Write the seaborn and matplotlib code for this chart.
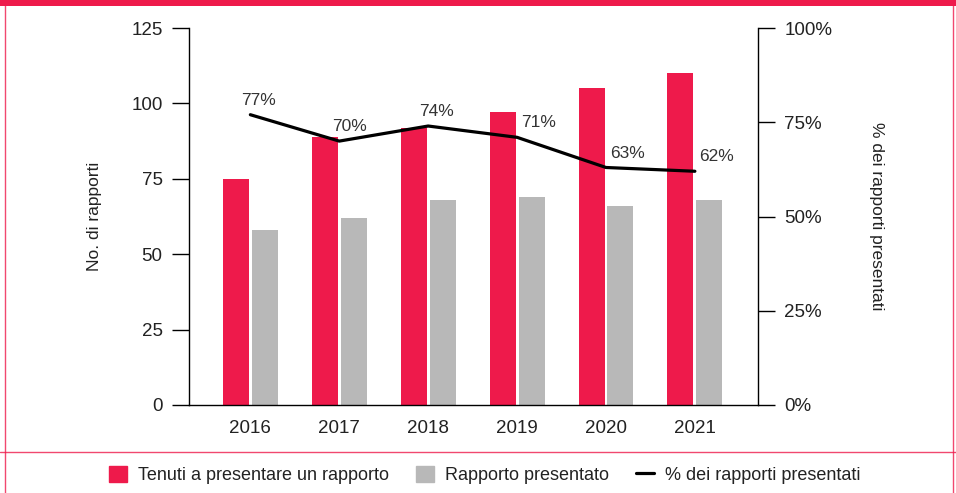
"""
Rapporti: tenuti a presentare vs presentati, 2016-2021
"""

import numpy as np
import pandas as pd
import matplotlib.pyplot as plt
import seaborn as sns
from matplotlib.patches import Patch, Rectangle
from matplotlib.lines import Line2D
from matplotlib.ticker import FuncFormatter

years = ['2016', '2017', '2018', '2019', '2020', '2021']
required = [75, 89, 92, 97, 105, 110]
submitted = [58, 62, 68, 69, 66, 68]
pct_submitted = [77, 70, 74, 71, 63, 62]

label_req = 'Tenuti a presentare un rapporto'
label_sub = 'Rapporto presentato'
label_pct = '% dei rapporti presentati'

RED = '#EE1A4B'
GREY = '#B8B8B8'
TXT = '#222222'

sns.set_style('white')
plt.rcParams['font.family'] = ['Liberation Sans', 'DejaVu Sans']
plt.rcParams['font.size'] = 12

df = pd.DataFrame({
    'year': years * 2,
    'value': required + submitted,
    'series': [label_req] * len(years) + [label_sub] * len(years),
})

fig = plt.figure(figsize=(9.56, 4.93), dpi=100)
ax = fig.add_axes([0.1977, 0.1785, 0.5952, 0.7647])

sns.barplot(data=df, x='year', y='value', hue='series', order=years,
            hue_order=[label_req, label_sub], palette=[RED, GREY],
            width=0.65, gap=0.1, ax=ax, legend=False, saturation=1,
            linewidth=0)

ax.set_xlim(-0.69, len(years) - 1 + 0.71)
ax.set_ylim(0, 125)
ax.set_yticks([0, 25, 50, 75, 100, 125])
ax.set_xlabel('')
ax.set_ylabel('No. di rapporti', fontsize=12.5, color=TXT, labelpad=21)

# secondary axis with the percentage line
ax2 = ax.twinx()
ax2.set_position(ax.get_position())
sns.lineplot(x=np.arange(len(years)), y=pct_submitted, ax=ax2,
             color='black', linewidth=2.3)
ax2.set_ylim(0, 100)
ax2.set_yticks([0, 25, 50, 75, 100])
ax2.yaxis.set_major_formatter(FuncFormatter(lambda v, _: f'{v:.0f}%'))
ax2.set_ylabel(label_pct, fontsize=12.5, color=TXT, rotation=270,
               labelpad=37)

x_offsets = [-9, -7, -9, 4, 4, 4]
for i, (p, dx) in enumerate(zip(pct_submitted, x_offsets)):
    ax2.annotate(f'{p}%', (i, p), xytext=(dx * 0.72, 5), textcoords='offset points',
                 ha='left', va='bottom', fontsize=12.5, color='#333333')

for a in (ax, ax2):
    for s in a.spines.values():
        s.set_visible(False)
    a.tick_params(colors=TXT, labelsize=13.5)
ax.spines['left'].set_visible(True)
ax.spines['bottom'].set_visible(True)
ax2.spines['right'].set_visible(True)
for s in ('left', 'bottom'):
    ax.spines[s].set_color('black')
    ax.spines[s].set_linewidth(1.0)
ax2.spines['right'].set_color('black')
ax2.spines['right'].set_linewidth(1.0)

ax.tick_params(axis='y', length=12, width=1.0, pad=7, color='black')
ax.tick_params(axis='x', length=6, width=1.0, pad=5, color='black')
ax2.tick_params(axis='y', length=12, width=1.0, pad=7, color='black')

# frame decoration
fig.add_artist(Rectangle((0, 1 - 6 / 493), 1, 6 / 493, transform=fig.transFigure,
                         color=RED, lw=0))
fig.add_artist(Line2D([5 / 956, 5 / 956], [0, 1], transform=fig.transFigure,
                      color=RED, lw=1.0, alpha=0.8))
fig.add_artist(Line2D([953 / 956, 953 / 956], [0, 1], transform=fig.transFigure,
                      color=RED, lw=1.0, alpha=0.8))
fig.add_artist(Line2D([0, 1], [1 - 452 / 493, 1 - 452 / 493], transform=fig.transFigure,
                      color=RED, lw=1.0, alpha=0.8))

handles = [Patch(color=RED, label=label_req),
           Patch(color=GREY, label=label_sub),
           Line2D([], [], color='black', lw=2.3, label=label_pct)]
fig.legend(handles=handles, loc='center', bbox_to_anchor=(0.507, 1 - 475 / 493),
           ncol=3, frameon=False, fontsize=13, handlelength=1.0, handleheight=1.0,
           handletextpad=0.6, columnspacing=1.5, labelcolor=TXT)

fig.savefig('out.png', dpi=100)
